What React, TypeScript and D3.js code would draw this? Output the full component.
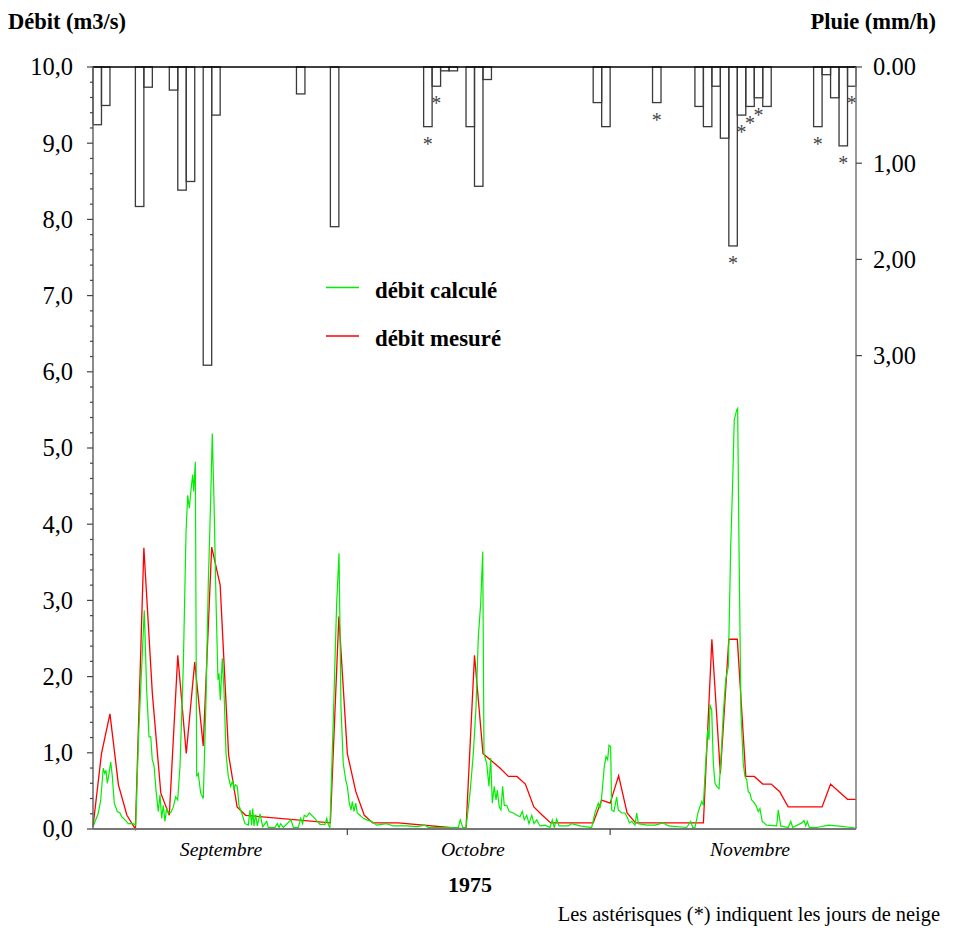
import React from "react";
import * as d3 from "d3";

// ---- Data ----
// Rain (mm/h) per day, day index from 1 Sept 1975
const rainDays = [0, 1, 5, 6, 9, 10, 11, 13, 14, 24, 28, 39, 40, 41, 42, 44, 45, 46, 59, 60, 66, 71, 72, 73, 74, 75, 76, 77, 78, 79, 85, 86, 87, 88, 89];
const rainValues = [0.6, 0.4, 1.45, 0.21, 0.24, 1.28, 1.19, 3.1, 0.5, 0.28, 1.66, 0.62, 0.2, 0.04, 0.04, 0.62, 1.24, 0.13, 0.37, 0.62, 0.37, 0.41, 0.62, 0.2, 0.74, 1.86, 0.5, 0.41, 0.32, 0.41, 0.62, 0.08, 0.32, 0.82, 0.2];
const snowDays = [39, 40, 66, 75, 76, 77, 78, 85, 88, 89];

// Measured discharge (m3/s)
const mesDays = [0, 1, 2, 3, 4, 5, 6, 7, 8, 9, 10, 11, 12, 13, 14, 15, 16, 17, 18, 28, 29, 30, 31, 32, 33, 36, 44, 45, 46, 48, 49, 50, 51, 52, 53, 54, 59, 60, 61, 62, 63, 64, 72, 73, 74, 75, 76, 77, 78, 79, 80, 81, 82, 86, 87, 88, 89, 90];
const mesValues = [0.03, 0.99, 1.51, 0.58, 0.18, 0.0, 3.69, 1.78, 0.47, 0.18, 2.28, 0.99, 2.19, 1.09, 3.7, 3.2, 0.97, 0.29, 0.18, 0.08, 2.79, 0.99, 0.49, 0.18, 0.08, 0.08, 0.0, 2.28, 0.99, 0.8, 0.69, 0.69, 0.59, 0.29, 0.18, 0.08, 0.08, 0.38, 0.34, 0.7, 0.21, 0.08, 0.08, 2.49, 0.73, 2.49, 2.49, 0.69, 0.69, 0.59, 0.59, 0.49, 0.29, 0.29, 0.59, 0.49, 0.39, 0.39];

// Computed discharge (m3/s)
const calcDays = [
  0.04, 0.63, 0.91, 1.21, 1.38, 1.53, 1.69, 1.89, 2.09, 2.28, 2.51, 2.87, 3.18, 3.39, 3.77, 4.16, 4.75, 5.04,
  5.39, 6.05, 6.33, 6.61, 6.81, 6.99, 7.2, 7.43, 7.7, 7.9, 8.1, 8.29, 8.49, 8.69, 8.88, 9.16, 9.47, 9.75, 9.99,
  10.26, 10.65, 10.97, 11.17, 11.36, 11.56, 11.76, 11.88, 12.07, 12.23, 12.42, 12.7, 13.01, 13.33, 13.6, 13.88,
  14.07, 14.27, 14.51, 14.74, 14.86, 15.02, 15.25, 15.45, 15.69, 15.96, 16.24, 16.48, 16.63, 16.78, 17.02, 17.22,
  17.54, 17.93, 18.32, 18.52, 18.72, 18.84, 18.99, 19.19, 19.38, 19.7, 20.02, 20.49, 20.68, 21.47, 21.74, 21.94,
  22.14, 22.45, 23.35, 23.63, 24.22, 24.5, 24.73, 24.92, 25.21, 25.51, 25.99, 26.46, 26.78, 27.37, 27.57, 27.75,
  27.95, 28.34, 28.74, 29.02, 29.25, 29.52, 29.81, 30.0, 30.23, 30.43, 30.59, 30.79, 30.99, 31.17, 31.49, 31.88,
  32.28, 32.87, 33.46, 34.64, 35.42, 37.0, 38.18, 39.16, 39.55, 41.72, 43.09, 43.32, 43.61, 44.0, 44.47, 44.86,
  45.18, 45.45, 45.73, 45.97, 46.12, 46.44, 46.71, 46.91, 47.1, 47.33, 47.54, 47.69, 47.92, 48.12, 48.32, 48.51,
  48.8, 49.1, 49.58, 49.98, 50.37, 50.64, 50.87, 51.16, 51.43, 51.75, 52.02, 52.34, 52.73, 53.31, 53.9, 54.18,
  54.41, 54.69, 54.97, 56.06, 56.46, 57.44, 58.82, 59.21, 59.6, 59.8, 60.0, 60.31, 60.51, 60.71, 60.86, 61.06,
  61.18, 61.45, 61.77, 61.96, 62.36, 62.75, 63.07, 63.26, 63.54, 63.93, 64.13, 64.33, 65.31, 66.29, 67.27, 67.86,
  70.03, 70.5, 70.74, 71.01, 71.4, 71.8, 71.99, 72.27, 72.51, 72.66, 72.78, 72.98, 73.17, 73.37, 73.57, 73.84,
  74.04, 74.35, 74.63, 74.94, 75.22, 75.46, 75.64, 75.93, 76.04, 76.2, 76.43, 76.7, 76.9, 77.1, 77.29, 77.49,
  77.69, 77.88, 78.2, 78.47, 78.67, 78.94, 79.46, 80.64, 80.83, 81.12, 82.01, 82.3, 82.53, 83.59, 83.86, 84.07,
  84.25, 84.49, 85.36, 86.73, 87.72, 89.49, 89.96,
];
const calcValues = [
  0.04, 0.21, 0.38, 0.8, 0.73, 0.77, 0.6, 0.73, 0.88, 0.69, 0.34, 0.23, 0.21, 0.16, 0.12, 0.07, 0.07, 0.05,
  1.26, 2.87, 1.82, 1.21, 1.21, 0.91, 0.83, 0.51, 0.23, 0.45, 0.14, 0.31, 0.1, 0.27, 0.21, 0.21, 0.29, 0.42, 0.38,
  0.82, 2.13, 3.88, 4.38, 4.21, 4.45, 4.65, 4.43, 4.82, 0.69, 0.73, 0.47, 0.4, 1.69, 3.22, 4.32,
  5.19, 4.32, 3.0, 1.96, 2.04, 1.69, 2.24, 1.82, 0.99, 0.69, 0.56, 0.64, 0.51, 0.58, 0.56, 0.31,
  0.21, 0.07, 0.05, 0.25, 0.05, 0.27, 0.04, 0.19, 0.04, 0.2, 0.03, 0.1, 0.02, 0.02, 0.07, 0.02,
  0.07, 0.02, 0.12, 0.02, 0.02, 0.14, 0.07, 0.18, 0.16, 0.21, 0.16, 0.1, 0.06, 0.06, 0.14, 0.06,
  0.02, 1.43, 2.96, 3.62, 1.6, 0.86, 0.64, 0.56, 0.34, 0.25, 0.36, 0.23, 0.34, 0.21, 0.18, 0.14,
  0.12, 0.1, 0.05, 0.07, 0.04, 0.04, 0.03, 0.05, 0.02, 0.02, 0.02, 0.12, 0.02, 0.02, 0.47, 0.99,
  1.6, 2.52, 2.96, 3.64, 0.99, 0.86, 0.56, 0.93, 0.34, 0.56, 0.38, 0.51, 0.29, 0.25, 0.56, 0.31,
  0.31, 0.23, 0.21, 0.18, 0.16, 0.23, 0.12, 0.18, 0.07, 0.18, 0.07, 0.12, 0.04, 0.05, 0.02, 0.12,
  0.02, 0.13, 0.04, 0.04, 0.07, 0.04, 0.02, 0.21, 0.34, 0.27, 0.42, 0.82, 0.95, 0.91, 1.1, 1.08,
  0.25, 0.23, 0.42, 0.25, 0.21, 0.21, 0.14, 0.08, 0.1, 0.05, 0.21, 0.07, 0.05, 0.05, 0.08, 0.04,
  0.02, 0.1, 0.02, 0.02, 0.23, 0.36, 0.31, 0.86, 1.3, 1.17, 1.63, 1.56, 0.86, 0.6, 0.56, 0.53,
  0.86, 1.52, 1.96, 2.13, 3.7, 4.58, 5.37, 5.5, 5.52, 3.7, 1.52, 0.86, 0.69, 0.65, 0.49, 0.47,
  0.38, 0.36, 0.31, 0.23, 0.27, 0.1, 0.05, 0.04, 0.25, 0.04, 0.02, 0.1, 0.02, 0.08, 0.11, 0.04,
  0.1, 0.02, 0.02, 0.05, 0.04, 0.02, 0.01,
];

const flowTicks = [0, 1, 2, 3, 4, 5, 6, 7, 8, 9, 10];
const flowTickLabels = ["0,0", "1,0", "2,0", "3,0", "4,0", "5,0", "6,0", "7,0", "8,0", "9,0", "10,0"];
const rainTicks = [0, 1, 2, 3];
const rainTickLabels = ["0.00", "1,00", "2,00", "3,00"];
const monthBoundaries = [30, 61];
const monthLabels = ["Septembre", "Octobre", "Novembre"];
const monthLabelPos = [15.1, 44.8, 77.5];

const SERIF = "'Liberation Serif', 'Times New Roman', Times, serif";

export default function App() {
  const left = 93, right = 856, top = 67, bottom = 829;
  const x = d3.scaleLinear().domain([0, 90]).range([left, right]);
  const y = d3.scaleLinear().domain([0, 10]).range([bottom, top]);
  const r = d3.scaleLinear().domain([0, 3]).range([top, top + 3 * 96.2]);

  const line = d3
    .line<[number, number]>()
    .x((d) => x(d[0]))
    .y((d) => y(d[1]));

  const calcPts: [number, number][] = calcDays.map((d, i) => [d, calcValues[i]]);
  const mesPts: [number, number][] = mesDays.map((d, i) => [d, mesValues[i]]);

  const minorTicks = d3.range(0, 10.001, 0.2).filter((v) => Math.abs(v - Math.round(v)) > 1e-6);

  return (
    <svg
      width={957}
      height={931}
      style={{ position: "absolute", left: 0, top: 0, background: "#fff" }}
      fontFamily={SERIF}
    >
      <rect x={0} y={0} width={957} height={931} fill="#fff" />
      {/* titles */}
      <text x={8} y={29} fontSize={22.5} fontWeight="bold">Débit (m3/s)</text>
      <text x={936} y={29} fontSize={22.5} fontWeight="bold" textAnchor="end">Pluie (mm/h)</text>

      {/* rain bars */}
      {rainDays.map((d, i) => (
        <rect
          key={"r" + i}
          x={x(d)}
          y={top}
          width={x(d + 1) - x(d)}
          height={r(rainValues[i]) - top}
          fill="none"
          stroke="#3a3a3a"
          strokeWidth={1.3}
        />
      ))}
      {snowDays.map((d, i) => {
        const idx = rainDays.indexOf(d);
        return (
          <text
            key={"s" + i}
            x={x(d + 0.5)}
            y={r(rainValues[idx]) + 24}
            fontSize={20}
            textAnchor="middle"
            fill="#444"
          >
            *
          </text>
        );
      })}

      {/* flow lines */}
      <path d={line(mesPts) || ""} fill="none" stroke="#ff0000" strokeWidth={1.3} />
      <path d={line(calcPts) || ""} fill="none" stroke="#00ee00" strokeWidth={1.2} />

      {/* top line */}
      <line x1={left} x2={right} y1={top} y2={top} stroke="#000" strokeWidth={1.5} />

      {/* left axis */}
      <line x1={left} x2={left} y1={top} y2={bottom} stroke="#666" strokeWidth={1.5} />
      {flowTicks.map((t, i) => (
        <g key={"ft" + i}>
          <line x1={left - 6} x2={left} y1={y(t)} y2={y(t)} stroke="#444" strokeWidth={1.2} />
          <text x={73} y={y(t)} dy="0.34em" fontSize={24.5} textAnchor="end">
            {flowTickLabels[i]}
          </text>
        </g>
      ))}
      {minorTicks.map((t, i) => (
        <line key={"mt" + i} x1={left - 3} x2={left} y1={y(t)} y2={y(t)} stroke="#444" strokeWidth={1.2} />
      ))}

      {/* right axis */}
      <line x1={right} x2={right} y1={top} y2={bottom} stroke="#777" strokeWidth={1.5} />
      {rainTicks.map((t, i) => (
        <g key={"rt" + i}>
          <line x1={right} x2={right + 6} y1={r(t)} y2={r(t)} stroke="#444" strokeWidth={1.2} />
          <text x={873} y={r(t)} dy="0.34em" fontSize={24.5}>
            {rainTickLabels[i]}
          </text>
        </g>
      ))}

      {/* bottom axis */}
      <line x1={left} x2={right} y1={bottom} y2={bottom} stroke="#777" strokeWidth={2} />
      {monthBoundaries.map((m, i) => (
        <line key={"mb" + i} x1={x(m)} x2={x(m)} y1={bottom} y2={bottom + 6} stroke="#444" strokeWidth={1.2} />
      ))}
      {monthLabels.map((m, i) => (
        <text key={"ml" + i} x={x(monthLabelPos[i])} y={856} fontSize={19.7} fontStyle="italic" textAnchor="middle">
          {m}
        </text>
      ))}
      <text x={470} y={892} fontSize={22} fontWeight="bold" textAnchor="middle">1975</text>
      <text x={940} y={921} fontSize={20.4} textAnchor="end">
        Les astérisques (*) indiquent les jours de neige
      </text>

      {/* legend */}
      <line x1={326} x2={359} y1={287.5} y2={287.5} stroke="#00ee00" strokeWidth={1.5} />
      <text x={375} y={298} fontSize={22.8} fontWeight="bold">débit calculé</text>
      <line x1={326} x2={359} y1={336} y2={336} stroke="#ff0000" strokeWidth={1.5} />
      <text x={375} y={346} fontSize={22.8} fontWeight="bold">débit mesuré</text>
    </svg>
  );
}
